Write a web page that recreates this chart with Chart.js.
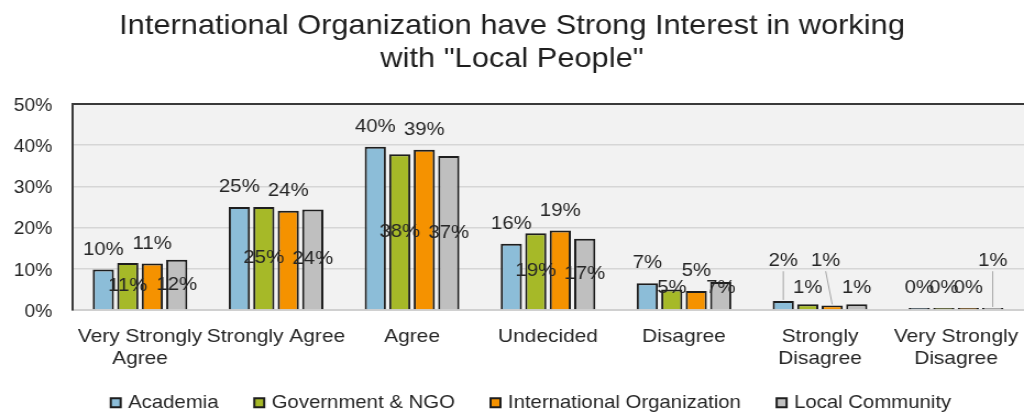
<!DOCTYPE html>
<html>
<head>
<meta charset="utf-8">
<title>Local People survey</title>
<script src="https://cdn.jsdelivr.net/npm/chart.js@4.4.1/dist/chart.umd.min.js"></script>
<style>
  html, body { margin: 0; padding: 0; background: #ffffff; overflow: hidden; }
</style>
</head>
<body>
<!-- canvas is drawn narrow and shown slightly wider, like the original slide export -->
<canvas id="surveyChart" width="931" height="416" style="display:block;width:1024px;height:416px;"></canvas>
<script>
// --- Survey data (percent of respondents) ---

const categories = [
    ["Very Strongly", "Agree"],
    "Strongly Agree",
    "Agree",
    "Undecided",
    "Disagree",
    ["Strongly", "Disagree"],
    ["Very Strongly", "Disagree"]
];

const seriesNames = ["Academia", "Government & NGO", "International Organization", "Local Community"];

const academia      = [9.8, 25.0, 39.6, 16.1, 6.5, 2.2, 0.2];
const government    = [11.4, 25.0, 37.8, 18.6, 5.0, 1.4, 0.2];
const international = [11.3, 24.1, 38.9, 19.3, 4.6, 1.1, 0.3];
const localPeople   = [12.2, 24.4, 37.4, 17.3, 6.8, 1.4, 0.5];

const yTicks = [0, 10, 20, 30, 40, 50];

// --- Look and feel ---

const seriesColors = ["#8cbdd8", "#a6b928", "#f59200", "#bfbfbf"];
const textColor = "#262626";

// labels that sit higher with a leader line: [category index, series index, x shift]
const raisedLabels = [[5, 0, 0], [5, 2, -6], [6, 3, 0]];

// legend row is nudged after layout so the x labels keep their full height
const legendShift = { x: 18.5, y: -12 };

Chart.defaults.font.family = '"Liberation Sans", Arial, sans-serif';
Chart.defaults.color = textColor;

// Light grey fill behind the plot
const plotBackground = {
    id: "plotBackground",
    beforeDraw(chart) {
        const { ctx, chartArea: a } = chart;
        ctx.save();
        ctx.fillStyle = "#f2f2f2";
        ctx.fillRect(a.left, a.top, a.right - a.left, a.bottom - a.top);
        ctx.restore();
    }
};

const legendPlacement = {
    id: "legendPlacement",
    afterLayout(chart) {
        const lg = chart.legend;
        lg.left += legendShift.x;
        lg.right += legendShift.x;
        lg.top += legendShift.y;
        lg.bottom += legendShift.y;
    }
};

// Percent labels on each bar
const valueLabels = {
    id: "valueLabels",
    afterDatasetsDraw(chart) {
        const { ctx } = chart;
        ctx.save();
        ctx.font = '18.5px "Liberation Sans", Arial, sans-serif';
        ctx.fillStyle = textColor;
        ctx.textAlign = "center";
        ctx.textBaseline = "middle";

        chart.data.datasets.forEach((ds, di) => {
            chart.getDatasetMeta(di).data.forEach((bar, i) => {
                const text = Math.round(ds.data[i]) + "%";
                const raised = raisedLabels.find(r => r[0] === i && r[1] === di);
                let x = bar.x;
                let y;

                if (raised) {
                    x += raised[2];
                    y = bar.base - 48;
                    ctx.strokeStyle = "#a6a6a6";
                    ctx.lineWidth = 1;
                    ctx.beginPath();
                    ctx.moveTo(x, y + 10);
                    ctx.lineTo(bar.x, bar.y - 1);
                    ctx.stroke();
                } else if (di % 2 === 0) {
                    y = bar.y - 20;
                } else {
                    y = Math.min((bar.y + bar.base) / 2, bar.base - 21);
                }

                ctx.fillText(text, x, y);
            });
        });
        ctx.restore();
    }
};

const ctx = document.getElementById("surveyChart").getContext("2d");

new Chart(ctx, {
    type: "bar",
    data: {
        labels: categories,
        datasets: [academia, government, international, localPeople].map((values, i) => ({
            label: seriesNames[i],
            data: values,
            backgroundColor: seriesColors[i],
            borderColor: "#1e1e1e",
            borderWidth: 2,
            minBarLength: 2,
            categoryPercentage: 0.72,
            barPercentage: 0.866
        }))
    },
    options: {
        responsive: false,
        animation: false,
        layout: { padding: { top: 0, left: 0, right: 0, bottom: -18 } },
        plugins: {
            title: {
                display: true,
                text: ["International Organization have Strong Interest in working", 'with "Local People"'],
                color: "#1f1f1f",
                font: { size: 28, weight: "normal", lineHeight: 1.2 },
                padding: { top: 9, bottom: 27.8 }
            },
            legend: {
                position: "bottom",
                labels: {
                    usePointStyle: true,
                    pointStyle: "rect",
                    boxWidth: 4,
                    boxHeight: 9,
                    padding: 35,
                    color: textColor,
                    font: { size: 18.5 }
                }
            },
            tooltip: { enabled: false }
        },
        scales: {
            x: {
                grid: { display: false, drawTicks: false },
                border: { color: "#d0d0d0", width: 2 },
                ticks: {
                    color: textColor,
                    font: { size: 19, lineHeight: 1.2 },
                    padding: 15,
                    maxRotation: 0,
                    autoSkip: false
                },
                afterFit(scale) {
                    scale.height = 60.5;
                    scale.paddingLeft = 0;
                    scale.paddingRight = 0;
                }
            },
            y: {
                min: yTicks[0],
                max: yTicks[yTicks.length - 1],
                afterBuildTicks(scale) { scale.ticks = yTicks.map(v => ({ value: v })); },
                ticks: {
                    color: textColor,
                    font: { size: 17.5 },
                    padding: 18,
                    labelOffset: 2,
                    callback: v => v + "%"
                },
                grid: {
                    drawTicks: false,
                    color: c => (c.tick && c.tick.value === 50 ? "#3a3a3a" : "#d6d6d6"),
                    lineWidth: c => (c.tick && c.tick.value === 50 ? 2 : 1.5)
                },
                border: { color: "#3a3a3a", width: 2 },
                afterFit(scale) { scale.width = 65.5; }
            }
        }
    },
    plugins: [plotBackground, legendPlacement, valueLabels]
});
</script>
</body>
</html>
